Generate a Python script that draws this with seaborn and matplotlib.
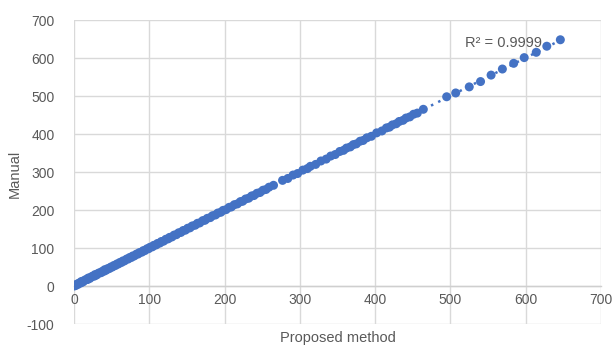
import numpy as np
import matplotlib
matplotlib.use("Agg")
import matplotlib.pyplot as plt
import seaborn as sns

# Paired measurements: proposed method vs. manual count
proposed = [0, 1, 2, 4, 5, 7, 9, 10, 12, 14,
            16, 18, 19, 21, 23, 25, 27, 28, 30, 32,
            34, 36, 38, 40, 41, 43, 45, 47, 49, 51,
            53, 55, 57, 59, 61, 63, 65, 67, 70, 72,
            74, 76, 78, 80, 83, 85, 87, 90, 92, 94,
            97, 99, 101, 104, 106, 109, 111, 114, 116, 119,
            122, 125, 127, 130, 133, 136, 139, 142, 145, 148,
            151, 154, 157, 161, 164, 167, 171, 174, 177, 181,
            184, 188, 191, 195, 198, 202, 206, 209, 213, 217,
            221, 224, 228, 232, 236, 239, 243, 247, 251, 255,
            259, 265, 277, 284, 291, 297, 304, 310, 314, 321,
            328, 335, 341, 347, 353, 358, 362, 367, 371, 375,
            380, 384, 389, 395, 402, 409, 415, 419, 423, 428,
            432, 437, 441, 446, 451, 456, 464, 495, 507, 525,
            540, 554, 569, 584, 598, 614, 628, 646]
manual = [0, 2, 1, 5, 4, 8, 8, 12, 11, 15,
          17, 17, 21, 20, 24, 26, 26, 30, 29, 33,
          35, 35, 39, 39, 43, 42, 46, 46, 50, 50,
          54, 54, 58, 58, 62, 62, 66, 66, 71, 71,
          75, 75, 79, 79, 84, 84, 88, 89, 93, 93,
          98, 98, 102, 103, 107, 108, 112, 113, 117, 118,
          123, 124, 128, 129, 134, 135, 140, 141, 146, 147,
          152, 153, 158, 160, 165, 166, 172, 173, 178, 180,
          185, 187, 192, 194, 199, 201, 207, 208, 214, 216,
          222, 223, 229, 231, 237, 238, 244, 246, 252, 254,
          260, 265, 278, 283, 292, 296, 305, 309, 315, 320,
          329, 334, 342, 346, 354, 357, 363, 366, 372, 374,
          381, 383, 390, 394, 403, 408, 416, 418, 424, 427,
          433, 436, 442, 445, 452, 455, 465, 498, 508, 524,
          538, 555, 571, 586, 601, 615, 631, 648]

x_ticks = [0, 100, 200, 300, 400, 500, 600, 700]
y_ticks = [-100, 0, 100, 200, 300, 400, 500, 600, 700]
r2_label = "R\u00b2 = 0.9999"

sns.set_theme(style="white")
plt.rcParams["font.family"] = ["Liberation Sans", "DejaVu Sans"]
plt.rcParams["axes.unicode_minus"] = False

BLUE = "#4472C4"
GRID = "#d9d9d9"
TEXT = "#595959"

fig = plt.figure(figsize=(6.14, 3.49), dpi=100)
ax = fig.add_axes([74 / 614, 25 / 349, 527 / 614, 304 / 349])

sns.scatterplot(x=proposed, y=manual, color=BLUE, s=42, edgecolor="none",
                linewidth=0, ax=ax, zorder=3)

# linear trendline over the data range
slope, intercept = np.polyfit(proposed, manual, 1)
xs = np.array([min(proposed), max(proposed)])
ax.plot(xs, slope * xs + intercept, color=BLUE, linestyle=(0, (1, 2.2)),
        linewidth=1.8, zorder=2)

ax.text(519, 639, r2_label, ha="left", va="center", fontsize=10.5,
        color=TEXT, zorder=4)

ax.set_xlim(0, 700)
ax.set_ylim(-100, 700)
ax.set_xticks(x_ticks)
ax.set_yticks(y_ticks)
ax.grid(True, color=GRID, linewidth=1)
ax.set_axisbelow(True)

for side in ["top", "right", "left"]:
    ax.spines[side].set_visible(False)
ax.spines["bottom"].set_position(("data", 0))
ax.spines["bottom"].set_color("#cfcfcf")
ax.spines["bottom"].set_linewidth(1)

ax.tick_params(axis="both", length=0, labelsize=10, labelcolor=TEXT)
ax.tick_params(axis="x", pad=5)
ax.tick_params(axis="y", pad=14)

ax.set_xlabel("")
ax.set_ylabel("")
fig.text(338 / 614, 1 - 338 / 349, "Proposed method", ha="center",
         va="center", fontsize=10.5, color=TEXT)
fig.text(15 / 614, 1 - 174 / 349, "Manual", ha="center", va="center",
         rotation=90, fontsize=10.5, color=TEXT)

fig.savefig("out.png", dpi=100)
